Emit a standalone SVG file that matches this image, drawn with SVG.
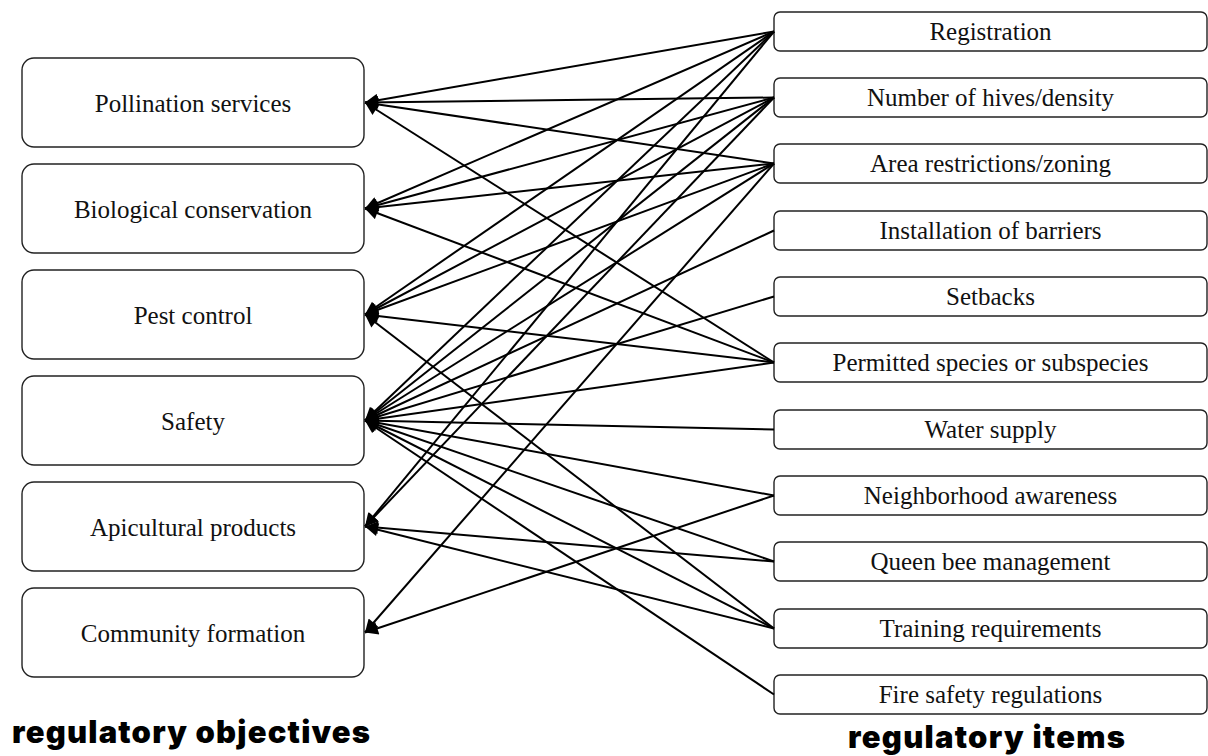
<svg xmlns="http://www.w3.org/2000/svg" width="1208" height="756" viewBox="0 0 1208 756">
<style>
.lb{fill:#fff;stroke:#222;stroke-width:1.4}
.rb{fill:#fff;stroke:#222;stroke-width:1.4}
.t{font-family:"Liberation Serif","Times New Roman",serif;font-size:25px;fill:#111;text-anchor:middle}
.h{font-family:Inter,"Liberation Sans",sans-serif;font-size:31px;font-weight:900;fill:#000}
.c line{stroke:#000;stroke-width:2;marker-end:url(#ah)}
</style>
<defs>
<marker id="ah" viewBox="0 0 10 10" refX="10" refY="5" markerUnits="userSpaceOnUse" markerWidth="15" markerHeight="13" orient="auto">
<path d="M0,0 L10,5 L0,10 z" fill="#000"/>
</marker>
</defs>
<rect width="1208" height="756" fill="#fff"/>
<g id="objectives">
<g id="pollination"><rect class="lb" x="22" y="58" width="342" height="89" rx="12"/><text class="t" x="193" y="112">Pollination services</text></g>
<g id="biological"><rect class="lb" x="22" y="164" width="342" height="89" rx="12"/><text class="t" x="193" y="218">Biological conservation</text></g>
<g id="pest"><rect class="lb" x="22" y="270" width="342" height="89" rx="12"/><text class="t" x="193" y="324">Pest control</text></g>
<g id="safety"><rect class="lb" x="22" y="376" width="342" height="89" rx="12"/><text class="t" x="193" y="430">Safety</text></g>
<g id="apicultural"><rect class="lb" x="22" y="482" width="342" height="89" rx="12"/><text class="t" x="193" y="536">Apicultural products</text></g>
<g id="community"><rect class="lb" x="22" y="588" width="342" height="89" rx="12"/><text class="t" x="193" y="642">Community formation</text></g>
</g>
<g id="items">
<g id="registration"><rect class="rb" x="774" y="12" width="433" height="39" rx="6"/><text class="t" x="990.5" y="40">Registration</text></g>
<g id="hives"><rect class="rb" x="774" y="78" width="433" height="39" rx="6"/><text class="t" x="990.5" y="106">Number of hives/density</text></g>
<g id="area"><rect class="rb" x="774" y="144" width="433" height="39" rx="6"/><text class="t" x="990.5" y="172">Area restrictions/zoning</text></g>
<g id="barriers"><rect class="rb" x="774" y="211" width="433" height="39" rx="6"/><text class="t" x="990.5" y="239">Installation of barriers</text></g>
<g id="setbacks"><rect class="rb" x="774" y="277" width="433" height="39" rx="6"/><text class="t" x="990.5" y="305">Setbacks</text></g>
<g id="species"><rect class="rb" x="774" y="343" width="433" height="39" rx="6"/><text class="t" x="990.5" y="371">Permitted species or subspecies</text></g>
<g id="water"><rect class="rb" x="774" y="410" width="433" height="39" rx="6"/><text class="t" x="990.5" y="438">Water supply</text></g>
<g id="neighborhood"><rect class="rb" x="774" y="476" width="433" height="39" rx="6"/><text class="t" x="990.5" y="504">Neighborhood awareness</text></g>
<g id="queen"><rect class="rb" x="774" y="542" width="433" height="39" rx="6"/><text class="t" x="990.5" y="570">Queen bee management</text></g>
<g id="training"><rect class="rb" x="774" y="609" width="433" height="39" rx="6"/><text class="t" x="990.5" y="637">Training requirements</text></g>
<g id="fire"><rect class="rb" x="774" y="675" width="433" height="39" rx="6"/><text class="t" x="990.5" y="703">Fire safety regulations</text></g>
</g>
<g id="connectors" class="c">
<line x1="774" y1="31.5" x2="365" y2="102.5"/>
<line x1="774" y1="31.5" x2="365" y2="208.5"/>
<line x1="774" y1="31.5" x2="365" y2="314.5"/>
<line x1="774" y1="31.5" x2="365" y2="420.5"/>
<line x1="774" y1="31.5" x2="365" y2="526.5"/>
<line x1="774" y1="97.5" x2="365" y2="102.5"/>
<line x1="774" y1="97.5" x2="365" y2="208.5"/>
<line x1="774" y1="97.5" x2="365" y2="314.5"/>
<line x1="774" y1="97.5" x2="365" y2="420.5"/>
<line x1="774" y1="97.5" x2="365" y2="526.5"/>
<line x1="774" y1="163.5" x2="365" y2="102.5"/>
<line x1="774" y1="163.5" x2="365" y2="208.5"/>
<line x1="774" y1="163.5" x2="365" y2="314.5"/>
<line x1="774" y1="163.5" x2="365" y2="420.5"/>
<line x1="774" y1="163.5" x2="365" y2="632.5"/>
<line x1="774" y1="230.5" x2="365" y2="420.5"/>
<line x1="774" y1="296.5" x2="365" y2="420.5"/>
<line x1="774" y1="362.5" x2="365" y2="102.5"/>
<line x1="774" y1="362.5" x2="365" y2="208.5"/>
<line x1="774" y1="362.5" x2="365" y2="314.5"/>
<line x1="774" y1="362.5" x2="365" y2="420.5"/>
<line x1="774" y1="429.5" x2="365" y2="420.5"/>
<line x1="774" y1="495.5" x2="365" y2="420.5"/>
<line x1="774" y1="495.5" x2="365" y2="632.5"/>
<line x1="774" y1="561.5" x2="365" y2="420.5"/>
<line x1="774" y1="561.5" x2="365" y2="526.5"/>
<line x1="774" y1="628.5" x2="365" y2="314.5"/>
<line x1="774" y1="628.5" x2="365" y2="420.5"/>
<line x1="774" y1="628.5" x2="365" y2="526.5"/>
<line x1="774" y1="694.5" x2="365" y2="420.5"/>
</g>
<g id="labels">
<text class="h" x="12" y="743" textLength="358" lengthAdjust="spacing">regulatory objectives</text>
<text class="h" x="848" y="748" textLength="277" lengthAdjust="spacing">regulatory items</text>
</g>
</svg>
